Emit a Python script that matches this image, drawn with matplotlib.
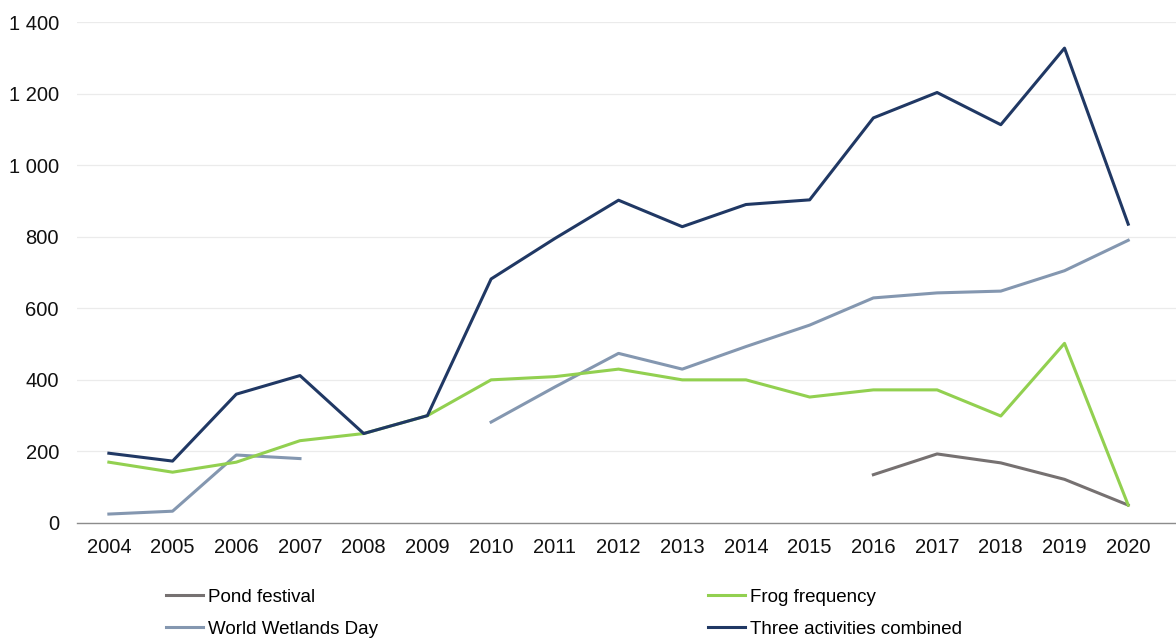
import numpy as np
import matplotlib
matplotlib.use("Agg")
import matplotlib.pyplot as plt
from matplotlib.ticker import FuncFormatter

years = list(range(2004, 2021))
nan = np.nan
pond_festival = [nan, nan, nan, nan, nan, nan, nan, nan, nan, nan, nan, nan,
                 135, 193, 168, 122, 50]
frog_frequency = [170, 142, 170, 230, 250, 300, 400, 409, 430, 400, 400, 352,
                  372, 372, 299, 502, 50]
world_wetlands_day = [25, 33, 190, 180, nan, nan, 282, 380, 474, 430, 493, 553,
                      629, 643, 648, 705, 790]
three_combined = [195, 173, 360, 412, 250, 300, 682, 795, 902, 828, 890, 903,
                  1132, 1203, 1113, 1327, 835]
yticks = [0, 200, 400, 600, 800, 1000, 1200, 1400]

plt.rcParams['font.family'] = ['Liberation Sans', 'DejaVu Sans']

fig = plt.figure(figsize=(11.76, 6.39), dpi=100)
ax = fig.add_axes([77/1176, 1 - 523/639, 1 - 77/1176, (523 - 22)/639])

lw = 2.2
l1, = ax.plot(years, pond_festival, color='#767171', lw=lw, label='Pond festival')
l2, = ax.plot(years, world_wetlands_day, color='#8497b0', lw=lw, label='World Wetlands Day')
l3, = ax.plot(years, frog_frequency, color='#92d050', lw=lw, label='Frog frequency')
l4, = ax.plot(years, three_combined, color='#203864', lw=lw, label='Three activities combined')

ax.set_xlim(2003.5, 2020.75)
ax.set_ylim(0, 1400)
ax.set_xticks(years)
ax.set_xticklabels([str(y) for y in years])
ax.set_yticks(yticks)
ax.yaxis.set_major_formatter(FuncFormatter(lambda v, p: f"{int(v):,}".replace(",", " ")))
ax.grid(axis='y', color='#ebebeb', lw=0.9)
ax.set_axisbelow(True)
for s in ['top', 'right', 'left']:
    ax.spines[s].set_visible(False)
ax.spines['bottom'].set_color('#8c8c8c')
ax.spines['bottom'].set_linewidth(1.0)
ax.tick_params(axis='both', length=0, labelsize=14.5, colors='#111111')
ax.tick_params(axis='x', pad=11)
ax.tick_params(axis='y', pad=13)

legfont = {'family': ['Liberation Sans Narrow', 'Liberation Sans'], 'size': 13.5}
leg1 = fig.legend([l1, l2], ['Pond festival', 'World Wetlands Day'],
                  loc='upper left', bbox_to_anchor=(160/1176, 1 - 583/639),
                  frameon=False, prop=legfont, handlelength=2.0, handletextpad=0.25,
                  labelspacing=0.8, borderaxespad=0, borderpad=0.3)
leg2 = fig.legend([l3, l4], ['Frog frequency', 'Three activities combined'],
                  loc='upper left', bbox_to_anchor=(702/1176, 1 - 583/639),
                  frameon=False, prop=legfont, handlelength=2.0, handletextpad=0.25,
                  labelspacing=0.8, borderaxespad=0, borderpad=0.3)

fig.savefig('out.png', dpi=100)
